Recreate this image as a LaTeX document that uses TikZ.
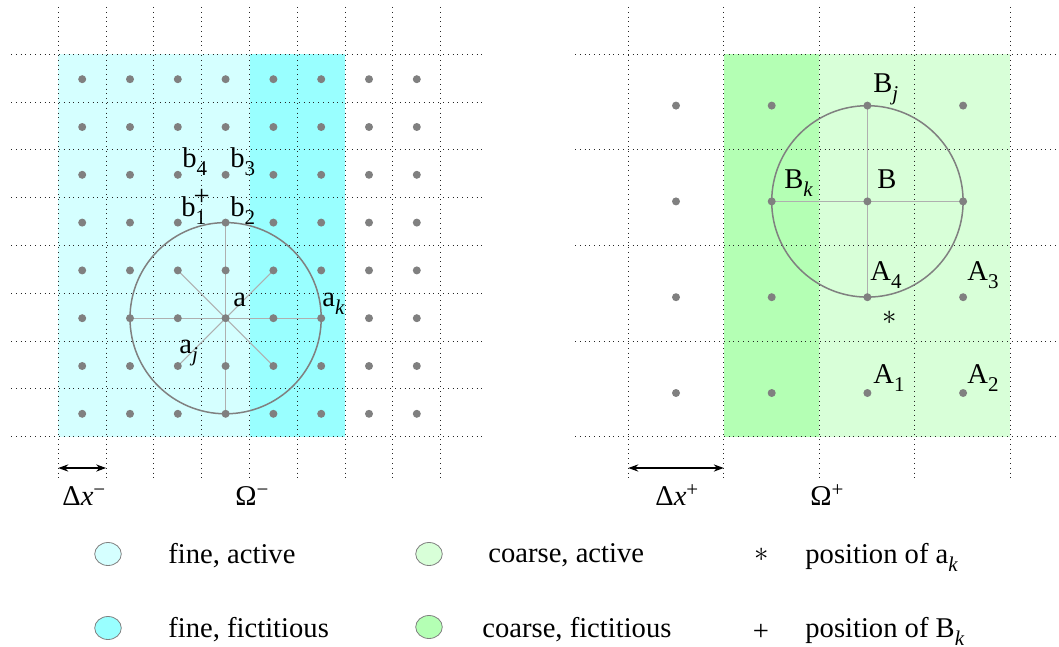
\documentclass[tikz,border=0pt]{standalone}
\usepackage{fontspec}
\setmainfont{Liberation Serif}
\usetikzlibrary{arrows.meta,shapes.geometric}
\definecolor{fineact}{RGB}{213,255,255}
\definecolor{finefic}{RGB}{153,255,255}
\definecolor{coarseact}{RGB}{216,255,216}
\definecolor{coarsefic}{RGB}{180,255,180}
\definecolor{dotgray}{RGB}{128,128,128}
\definecolor{spokegray}{RGB}{175,175,175}
\newcommand\lsub[1]{\raisebox{-4pt}{\fontsize{10.5}{12}\selectfont #1}}
\newcommand\lsup[1]{\raisebox{4.5pt}{\fontsize{10.5}{12}\selectfont #1}}
\pgfdeclarelayer{back}
\pgfdeclarelayer{lines}
\pgfsetlayers{back,lines,main}
\begin{document}
\begin{tikzpicture}[x=0.5pt,y=-0.5pt, font=\fontsize{14.3}{17}\selectfont,
  gridline/.style={line width=0.5pt, dash pattern=on 0.5pt off 1.9pt, black!85},
  griddot/.style={circle, fill=dotgray, inner sep=0pt, minimum size=4pt},
  lbl/.style={anchor=base west, inner sep=0pt},
  sym/.style={inner sep=0pt},
  ring/.style={draw=dotgray, line width=0.75pt},
  spoke/.style={draw=spokegray, line width=0.5pt},
  sizearrow/.style={{Stealth[length=5pt,width=3.6pt]}-{Stealth[length=5pt,width=3.6pt]}, line width=0.6pt},
  legcirc/.style={ellipse, draw=dotgray, line width=0.4pt, inner sep=0pt, minimum width=13.3pt, minimum height=11.5pt}
]
\useasboundingbox (0,0) rectangle (1059,647);

% ---------- backgrounds and grids ----------
\begin{pgfonlayer}{back}
  \fill[fineact] (58.3,54.3) rectangle (249.5,436.7);
  \fill[finefic] (249.5,54.3) rectangle (345.1,436.7);
  \fill[coarsefic] (723.75,54.3) rectangle (819.2,436.7);
  \fill[coarseact] (819.2,54.3) rectangle (1010.1,436.7);
  \foreach \i in {0,...,8} \draw[gridline] ({58.3+47.8*\i},7) -- ({58.3+47.8*\i},478);
  \foreach \j in {0,...,8} \draw[gridline] (11,{54.3+47.8*\j}) -- (483,{54.3+47.8*\j});
  \foreach \i in {0,...,4} \draw[gridline] ({628.3+95.45*\i},7) -- ({628.3+95.45*\i},478);
  \foreach \j in {0,...,4} \draw[gridline] (575,{54.3+95.6*\j}) -- (1059,{54.3+95.6*\j});
\end{pgfonlayer}

% ---------- grid points ----------
\foreach \c in {0,...,7} \foreach \r in {0,...,7}
  \node[griddot] (L\c-\r) at ({82.2+47.8*\c},{79.2+47.8*\r}) {};
\foreach \c in {0,...,3} \foreach \r in {0,...,3}
  \node[griddot] (R\c-\r) at ({676+95.7*\c},{105.6+95.8*\r}) {};

% ---------- stencils ----------
\begin{pgfonlayer}{lines}
  \draw[ring] (L3-5) circle[radius=47.8pt];
  \foreach \t in {L1-5,L5-5,L3-3,L3-7,L2-4,L4-4,L2-6,L4-6}
    \draw[spoke] (L3-5.center) -- (\t.center);
  \draw[ring] (R2-1) circle[radius=47.85pt];
  \draw[spoke] (R2-0.center) -- (R2-2.center);
  \draw[spoke] (R1-1.center) -- (R3-1.center);
\end{pgfonlayer}

% ---------- left labels ----------
\node[lbl] (la) at (233,306) {a};
\node[lbl] (lak) at (322,306) {a\lsub{\textit{k}}};
\node[lbl] (laj) at (179,353) {a\lsub{\textit{j}}};
\node[lbl] (lb4) at (182,167) {b\lsub{4}};
\node[lbl] (lb3) at (230,167) {b\lsub{3}};
\node[lbl] (lb1) at (181,216) {b\lsub{1}};
\node[lbl] (lb2) at (230,216) {b\lsub{2}};
\node[sym] (plusB) at (201.7,197) {+};

% ---------- right labels ----------
\node[lbl] (lBj) at (873,93) {B\lsub{\textit{j}}};
\node[lbl] (lBk) at (784,188) {B\lsub{\textit{k}}};
\node[lbl] (lB) at (877,188) {B};
\node[lbl] (lA4) at (870,280) {A\lsub{4}};
\node[lbl] (lA3) at (967,280) {A\lsub{3}};
\node[lbl] (lA1) at (873,383) {A\lsub{1}};
\node[lbl] (lA2) at (967,383) {A\lsub{2}};
\node[sym] (astA) at (890,318) {$\ast$};

% ---------- spacing arrows ----------
\coordinate (dl1) at (58.3,468);
\coordinate (dl2) at (106.1,468);
\coordinate (dr1) at (628.3,468);
\coordinate (dr2) at (723.75,468);
\draw[sizearrow] (dl1) -- (dl2);
\draw[sizearrow] (dr1) -- (dr2);
\node[lbl] (dxm) at (62,505) {Δ\textit{x}\lsup{−}};
\node[lbl] (omm) at (235,505) {Ω\lsup{−}};
\node[lbl] (dxp) at (655,505) {Δ\textit{x}\lsup{+}};
\node[lbl] (omp) at (810,505) {Ω\lsup{+}};

% ---------- legend ----------
\node[legcirc, fill=fineact] (g1) at (108,554) {};
\node[legcirc, fill=finefic] (g2) at (108,628) {};
\node[legcirc, fill=coarseact] (g3) at (429,554) {};
\node[legcirc, fill=coarsefic] (g4) at (429,627) {};
\node[lbl] (t1) at (168,563) {fine, active};
\node[lbl] (t2) at (168,637) {fine, fictitious};
\node[lbl] (t3) at (488,562) {coarse, active};
\node[lbl] (t4) at (482,637) {coarse, fictitious};
\node[sym] (s1) at (762,555) {$\ast$};
\node[lbl] (t5) at (805,563) {position of a\lsub{\textit{k}}};
\node[sym] (s2) at (761,632) {+};
\node[lbl] (t6) at (805,637) {position of B\lsub{\textit{k}}};
\end{tikzpicture}
\end{document}
